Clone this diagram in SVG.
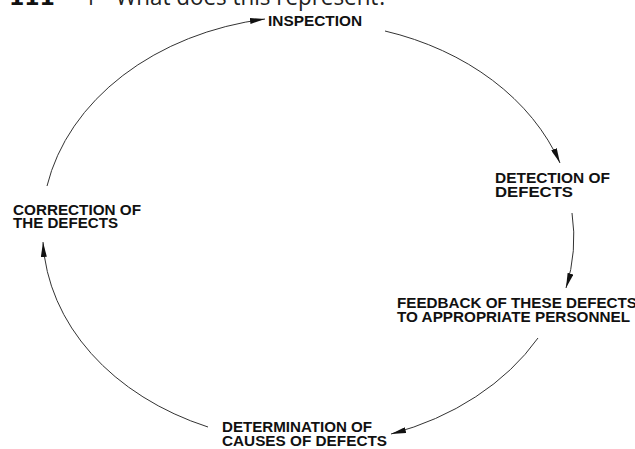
<svg xmlns="http://www.w3.org/2000/svg" width="635" height="449" viewBox="0 0 635 449">
  <style>
    .lbl { font-family: "Liberation Sans", Arial, sans-serif; font-weight: bold; font-size: 15px; fill: #111; }
    .title { font-family: "Open Sans", "Liberation Sans", sans-serif; font-size: 24px; fill: #222; }
    .num { font-family: "DejaVu Sans", sans-serif; font-weight: bold; font-size: 22px; fill: #111; }
    .conn { fill: none; stroke: #333; stroke-width: 1; }
  </style>
  <defs>
    <marker id="ah" viewBox="0 0 15 6" refX="15" refY="3" markerWidth="15" markerHeight="6" markerUnits="userSpaceOnUse" orient="auto">
      <path d="M0,0 L15,3 L0,6 z" fill="#111"/>
    </marker>
  </defs>
  <rect width="635" height="449" fill="#fff"/>

  <g id="title">
    <text class="num" x="9" y="5">111</text>
    <text class="title" x="84" y="5" textLength="304" lengthAdjust="spacingAndGlyphs">1 - What does this represent?</text>
  </g>

  <g id="connectors">
    <path class="conn" marker-end="url(#ah)" d="M385,31 A266,210 0 0 1 560,163"/>
    <path class="conn" marker-end="url(#ah)" d="M572,213 A266,210 0 0 1 566,288"/>
    <path class="conn" marker-end="url(#ah)" d="M538,338 A266,210 0 0 1 391,434"/>
    <path class="conn" marker-end="url(#ah)" d="M208,427 A266,210 0 0 1 43,242"/>
    <path class="conn" marker-end="url(#ah)" d="M47,186 A266,210 0 0 1 265,19"/>
  </g>

  <g id="inspection">
    <text class="lbl" x="268" y="26" textLength="94" lengthAdjust="spacingAndGlyphs">INSPECTION</text>
  </g>
  <g id="detection">
    <text class="lbl" x="495" y="183" textLength="115" lengthAdjust="spacingAndGlyphs">DETECTION OF</text>
    <text class="lbl" x="495" y="197" textLength="78" lengthAdjust="spacingAndGlyphs">DEFECTS</text>
  </g>
  <g id="feedback">
    <text class="lbl" x="397" y="308" textLength="240" lengthAdjust="spacingAndGlyphs">FEEDBACK OF THESE DEFECTS</text>
    <text class="lbl" x="397" y="322" textLength="233" lengthAdjust="spacingAndGlyphs">TO APPROPRIATE PERSONNEL</text>
  </g>
  <g id="determination">
    <text class="lbl" x="222" y="432" textLength="150" lengthAdjust="spacingAndGlyphs">DETERMINATION OF</text>
    <text class="lbl" x="222" y="446" textLength="165" lengthAdjust="spacingAndGlyphs">CAUSES OF DEFECTS</text>
  </g>
  <g id="correction">
    <text class="lbl" x="13" y="215" textLength="128" lengthAdjust="spacingAndGlyphs">CORRECTION OF</text>
    <text class="lbl" x="13" y="228" textLength="105" lengthAdjust="spacingAndGlyphs">THE DEFECTS</text>
  </g>
</svg>
